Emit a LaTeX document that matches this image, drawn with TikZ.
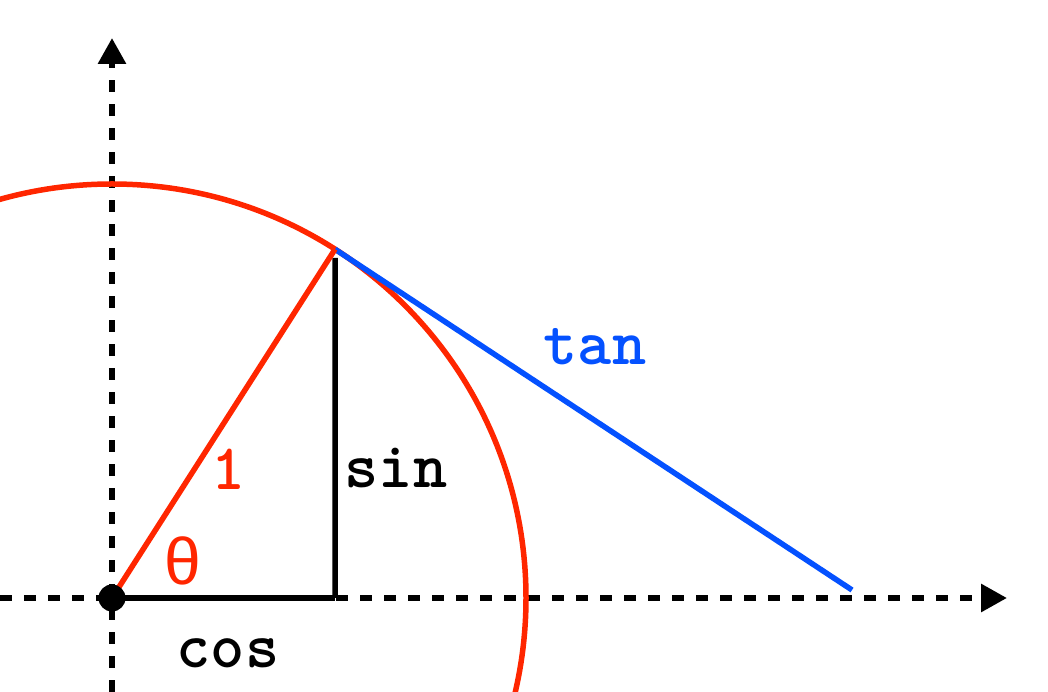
\documentclass[tikz,border=0pt]{standalone}
\usepackage{fontspec}
\newfontfamily\thetafont{Liberation Sans}
\usetikzlibrary{arrows.meta}
\definecolor{trigred}{RGB}{255,38,0}
\definecolor{trigblue}{RGB}{4,81,255}

\begin{document}
\begin{tikzpicture}[
  x=1pt, y=1pt,
  axis/.style={line width=6pt,dash pattern=on 12pt off 12pt,-{Triangle[length=26pt,width=27pt]}},
  edge/.style={line width=5.5pt},
  lbl/.style={font=\ttfamily\bfseries\fontsize{65}{68}\selectfont,anchor=base,inner sep=0pt}
]
  \useasboundingbox (-112,-94) rectangle (936,598);
  \clip (-112,-94) rectangle (936,598);
  % axes
  \coordinate (xl) at (-112,0);
  \coordinate (xr) at (895,0);
  \coordinate (yb) at (0,-94);
  \coordinate (yt) at (0,560);
  \draw[axis] (xl) -- (xr);
  \draw[axis] (yb) -- (yt);
  % unit circle and triangle
  \coordinate (P) at (57.4:414);
  \coordinate (F) at (223,0);
  \coordinate (T) at (740,8);
  \draw[edge,trigred] (0,0) circle (414);
  \draw[edge] (F) -- (P |- 0,340);
  \draw[edge] (0,0) -- (F);
  \draw[edge,trigblue] (P) -- (T);
  \draw[edge,trigred,line join=miter] (0,0) -- (P);
  \node[circle,fill=black,inner sep=0pt,minimum size=27pt] (O) at (0,0) {};
  % labels
  \node[lbl,text=trigblue] (tan) at (483,233) {tan};
  \node[lbl] (sin) at (284,110) {sin};
  \node[lbl,text=trigred] (one) at (117,108) {1};
  \node[lbl] (cos) at (116,-70) {cos};
  \node[anchor=base,inner sep=0pt,text=trigred,font=\thetafont\fontsize{66}{70}\selectfont] (theta) at (71,13) {θ};
\end{tikzpicture}
\end{document}
